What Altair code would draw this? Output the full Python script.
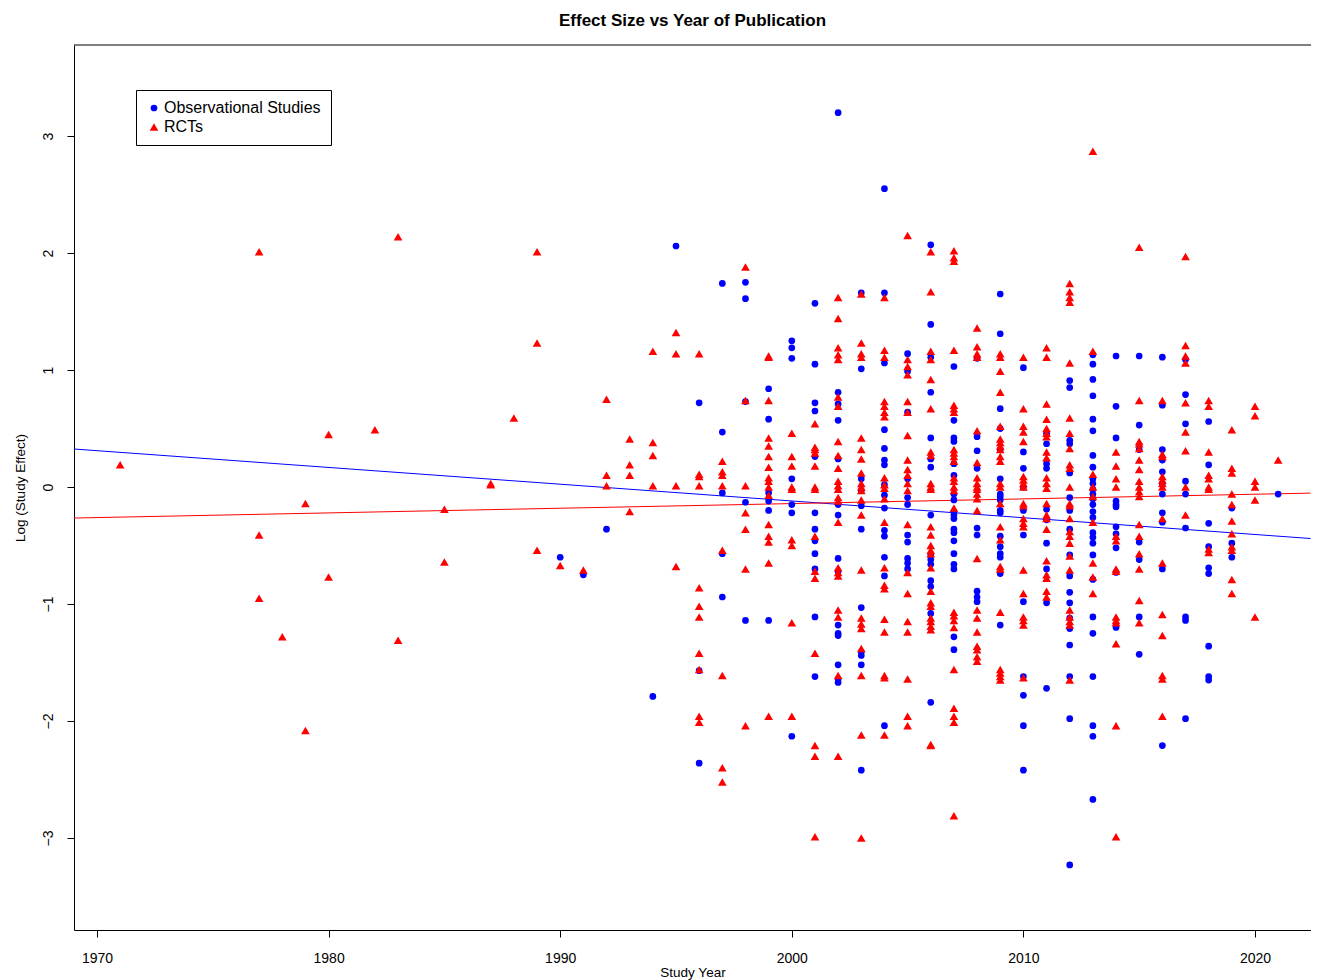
import altair as alt
import pandas as pd

# Observational studies: year -> log(study effect)
obs_by_year = {
    1990: [-0.60],
    1991: [-0.75],
    1992: [-0.36],
    1994: [-1.79],
    1995: [2.06],
    1996: [0.72, -1.57, -2.36],
    1997: [1.74, 0.47, -0.05, -0.57, -0.94],
    1998: [1.75, 1.61, 0.73, -0.13, -1.14],
    1999: [0.84, 0.58, -0.05, -0.12, -0.20, -1.14],
    2000: [1.25, 1.19, 1.10, 0.07, -0.15, -0.22, -2.13],
    2001: [1.57, 1.05, 0.72, 0.65, 0.26, -0.22, -0.36, -0.46, -0.57, -0.70, -1.11, -1.62],
    2002: [3.20, 0.81, 0.71, 0.57, 0.24, -0.15, -0.24, -0.61, -0.72, -1.18, -1.25, -1.27, -1.52, -1.64, -1.67],
    2003: [1.66, 1.01, 0.07, -0.03, -0.16, -0.36, -1.03, -1.41, -1.44, -1.52, -2.42],
    2004: [2.55, 1.66, 1.06, 0.49, 0.33, 0.23, 0.19, 0.02, -0.07, -0.18, -0.37, -0.42, -0.60, -0.76, -2.04],
    2005: [1.14, 0.99, 0.64, 0.07, -0.09, -0.15, -0.41, -0.47, -0.61, -0.65, -0.70],
    2006: [2.07, 1.39, 1.11, 0.81, 0.42, 0.24, 0.17, -0.24, -0.58, -0.62, -0.66, -0.80, -0.85, -1.08, -1.84],
    2007: [1.03, 0.57, 0.42, 0.39, 0.20, 0.10, -0.06, -0.11, -0.21, -0.24, -0.27, -0.36, -0.39, -0.46,
           -0.57, -0.66, -0.70, -1.28, -1.39],
    2008: [1.10, 0.43, 0.31, 0.16, -0.35, -0.41, -0.89, -0.94, -0.98],
    2009: [1.65, 1.31, 0.67, 0.50, 0.32, 0.07, -0.06, -0.08, -0.11, -0.20, -0.22, -0.42, -0.51, -0.57,
           -0.60, -0.74, -1.18],
    2010: [1.02, 0.30, 0.16, 0.00, -0.20, -0.41, -0.98, -1.62, -1.78, -2.04, -2.42],
    2011: [0.46, 0.37, 0.20, 0.16, -0.19, -0.28, -0.48, -0.70, -0.99, -1.72],
    2012: [0.91, 0.85, 0.40, 0.37, 0.12, -0.09, -0.20, -0.36, -0.58, -0.76, -0.90, -0.99, -1.12, -1.21,
           -1.35, -1.62, -1.98, -3.23],
    2013: [1.13, 1.05, 0.92, 0.78, 0.58, 0.48, 0.27, 0.17, 0.07, 0.03, -0.02, -0.06, -0.10, -0.15, -0.21,
           -0.26, -0.39, -0.43, -0.48, -0.58, -0.79, -1.11, -1.25, -1.62, -2.04, -2.13, -2.67],
    2014: [1.12, 0.69, 0.42, -0.12, -0.15, -0.17, -0.34, -0.40, -0.52, -0.73, -1.20],
    2015: [1.12, 0.53, 0.32, -0.47, -0.62, -1.11, -1.43],
    2016: [1.11, 0.70, 0.32, 0.23, 0.13, 0.03, -0.06, -0.22, -0.30, -0.70, -2.21],
    2017: [1.09, 0.79, 0.54, 0.05, -0.06, -0.35, -1.11, -1.14, -1.98],
    2018: [0.56, 0.19, -0.31, -0.51, -0.69, -0.74, -1.36, -1.62, -1.65],
    2019: [-0.18, -0.48, -0.60],
    2021: [-0.06],
}

# Randomised controlled trials: year -> log(study effect)
rct_by_year = {
    1971: [0.19],
    1977: [2.01, -0.41, -0.95],
    1978: [-1.28],
    1979: [-0.14, -2.08],
    1980: [0.45, -0.77],
    1982: [0.49],
    1983: [2.14, -1.31],
    1985: [-0.19, -0.64],
    1987: [0.02, 0.03],
    1988: [0.59],
    1989: [2.01, 1.23, -0.54],
    1990: [-0.67],
    1991: [-0.71],
    1992: [0.75, 0.10, 0.01],
    1993: [0.41, 0.19, 0.10, -0.21],
    1994: [1.16, 0.38, 0.27, 0.01],
    1995: [1.32, 1.14, 0.01, -0.68],
    1996: [1.14, 0.11, 0.09, 0.01, -0.86, -1.02, -1.11, -1.42, -1.56, -1.96, -2.01],
    1997: [0.22, 0.13, 0.10, 0.01, -0.54, -1.61, -2.40, -2.52],
    1998: [1.88, 0.74, 0.01, -0.22, -0.36, -0.70, -2.04],
    1999: [1.12, 1.11, 0.74, 0.42, 0.35, 0.26, 0.17, 0.08, 0.05, 0.00, -0.07, -0.32, -0.42, -0.47,
           -0.65, -1.96],
    2000: [0.46, 0.26, 0.18, 0.00, -0.02, -0.45, -0.50, -1.16, -1.96],
    2001: [0.54, 0.34, 0.32, 0.29, 0.18, 0.00, -0.02, -0.42, -0.72, -0.78, -1.42, -2.21, -2.30, -2.99],
    2002: [1.62, 1.44, 1.19, 1.13, 1.09, 0.77, 0.69, 0.39, 0.27, 0.16, 0.05, 0.01, -0.02, -0.09, -0.12,
           -0.30, -0.69, -0.73, -0.76, -1.05, -1.11, -1.61, -2.30],
    2003: [1.65, 1.23, 1.14, 1.11, 0.42, 0.32, 0.24, 0.12, 0.03, 0.00, -0.03, -0.11, -0.24, -0.71, -1.12,
           -1.17, -1.21, -1.38, -1.61, -2.12, -3.00],
    2004: [1.62, 1.17, 1.11, 0.73, 0.69, 0.64, 0.60, 0.08, 0.02, -0.01, -0.10, -0.30, -0.69, -0.84, -0.87,
           -1.13, -1.24, -1.61, -1.63, -2.12],
    2005: [2.15, 1.09, 1.03, 0.96, 0.73, 0.64, 0.44, 0.23, 0.15, 0.10, 0.03, -0.03, -0.32, -0.73, -0.91,
           -1.15, -1.24, -1.64, -1.96, -2.04],
    2006: [2.01, 1.67, 1.16, 1.09, 0.92, 0.67, 0.30, 0.27, 0.03, 0.00, -0.02, -0.34, -0.41, -0.50, -0.54,
           -0.57, -0.69, -0.89, -0.99, -1.02, -1.12, -1.15, -1.19, -1.22, -2.20, -2.21],
    2007: [2.02, 1.96, 1.93, 1.17, 0.70, 0.67, 0.64, 0.32, 0.29, 0.26, 0.22, 0.08, 0.05, 0.00, -0.03,
           -0.18, -1.07, -1.10, -1.14, -1.20, -1.56, -1.89, -1.96, -2.01, -2.81],
    2008: [1.36, 1.20, 1.14, 1.11, 0.48, 0.21, 0.08, 0.03, 0.00, -0.02, -0.06, -0.10, -0.20, -0.61, -1.05,
           -1.12, -1.24, -1.36, -1.39, -1.45, -1.49],
    2009: [1.14, 1.11, 0.99, 0.81, 0.52, 0.41, 0.38, 0.35, 0.32, 0.26, 0.22, 0.03, 0.00, -0.14, -0.34,
           -0.45, -0.68, -0.70, -1.07, -1.56, -1.59, -1.62, -1.65],
    2010: [1.11, 0.67, 0.52, 0.47, 0.39, 0.09, 0.06, 0.03, 0.00, -0.14, -0.16, -0.27, -0.31, -0.34, -0.71,
           -0.91, -1.11, -1.14, -1.18, -1.63],
    2011: [1.19, 1.11, 0.71, 0.58, 0.50, 0.46, 0.43, 0.30, 0.25, 0.08, 0.03, -0.01, -0.14, -0.24, -0.27,
           -0.36, -0.63, -0.75, -0.78, -0.89, -0.94],
    2012: [1.74, 1.67, 1.62, 1.58, 1.06, 0.59, 0.46, 0.33, 0.19, 0.16, 0.00, -0.14, -0.16, -0.27, -0.38,
           -0.42, -0.48, -0.59, -0.71, -1.05, -1.11, -1.15, -1.18, -1.65],
    2013: [2.87, 1.16, 0.11, 0.00, -0.08, -0.30, -0.65, -0.77, -0.91],
    2014: [0.30, 0.18, 0.07, 0.00, -0.42, -0.46, -0.70, -0.72, -1.11, -1.14, -1.16, -1.34, -2.04, -2.99],
    2015: [2.05, 0.74, 0.39, 0.37, 0.33, 0.23, 0.15, 0.05, 0.00, -0.04, -0.08, -0.32, -0.42, -0.57, -0.70,
           -0.97, -1.16],
    2016: [0.74, 0.28, 0.26, 0.09, 0.06, 0.03, 0.00, -0.27, -0.65, -1.09, -1.27, -1.61, -1.64, -1.96],
    2017: [1.97, 1.21, 1.12, 1.06, 0.72, 0.47, 0.31, 0.00, -0.24],
    2018: [0.74, 0.69, 0.30, 0.10, 0.07, 0.00, -0.02, -0.53, -0.56],
    2019: [0.49, 0.16, 0.12, -0.06, -0.15, -0.29, -0.40, -0.51, -0.54, -0.79, -0.91],
    2020: [0.69, 0.61, 0.05, 0.00, -0.11, -1.11],
    2021: [0.23],
}

# Fitted trend lines (end points)
fit_years = [1969.0, 2022.4]
obs_fit = [0.325, -0.440]
rct_fit = [-0.265, -0.052]

series_names = ["Observational Studies", "RCTs"]
series_colors = ["#0000FF", "#FF0000"]
series_shapes = ["circle", "triangle-up"]
x_ticks = [1970, 1980, 1990, 2000, 2010, 2020]
y_ticks = [-3, -2, -1, 0, 1, 2, 3]

rows = []
for yr, vals in obs_by_year.items():
    for v in vals:
        rows.append({"year": yr, "effect": v, "type": series_names[0]})
for yr, vals in rct_by_year.items():
    for v in vals:
        rows.append({"year": yr, "effect": v, "type": series_names[1]})
pts = pd.DataFrame(rows)

obs_line = pd.DataFrame({"year": fit_years, "effect": obs_fit})
rct_line = pd.DataFrame({"year": fit_years, "effect": rct_fit})

W, H = 1237, 885
FONT = "Liberation Sans"

xscale = alt.Scale(domain=[1969.007, 1969.007 + W / 23.16], nice=False, zero=False)
yscale = alt.Scale(domain=[-3.786, 3.778], nice=False, zero=False)
cscale = alt.Scale(domain=series_names, range=series_colors)
sscale = alt.Scale(domain=series_names, range=series_shapes)

xaxis = alt.Axis(values=x_ticks, format="d", title="Study Year", grid=False,
                 domainColor="black", tickColor="black", tickSize=7,
                 labelFontSize=14, labelFont=FONT, labelColor="black", labelPadding=14,
                 titleFontSize=13.5, titleFont=FONT, titleFontWeight="normal",
                 titleColor="black", titlePadding=0, labelFlush=False)
yaxis = alt.Axis(values=y_ticks, format="d", title="Log (Study Effect)", grid=False,
                 domainColor="black", tickColor="black", tickSize=7,
                 labelFontSize=14, labelFont=FONT, labelColor="black", labelAngle=270,
                 labelAlign="center", labelBaseline="bottom", labelPadding=12,
                 titleFontSize=13.5, titleFont=FONT, titleFontWeight="normal",
                 titleColor="black", titlePadding=14, labelFlush=False)

leg = alt.Legend(title=None, orient="none", legendX=62, legendY=45,
                 strokeColor="black", fillColor="white", padding=10,
                 labelFontSize=16, labelFont=FONT, labelColor="black",
                 labelOffset=2, rowPadding=3, symbolSize=55, symbolStrokeWidth=0)

points = alt.Chart(pts).mark_point(filled=True, opacity=1, clip=True).encode(
    x=alt.X("year:Q", scale=xscale, axis=xaxis),
    y=alt.Y("effect:Q", scale=yscale, axis=yaxis),
    color=alt.Color("type:N", scale=cscale, legend=leg),
    shape=alt.Shape("type:N", scale=sscale, legend=leg),
    size=alt.Size("type:N", scale=alt.Scale(domain=series_names, range=[45, 75]), legend=None),
    order=alt.Order("type:N"),
)

obs_trend = alt.Chart(obs_line).mark_line(strokeWidth=1, clip=True, color=series_colors[0]).encode(
    x=alt.X("year:Q", scale=xscale),
    y=alt.Y("effect:Q", scale=yscale),
)
rct_trend = alt.Chart(rct_line).mark_line(strokeWidth=1, clip=True, color=series_colors[1]).encode(
    x=alt.X("year:Q", scale=xscale),
    y=alt.Y("effect:Q", scale=yscale),
)

top_border = alt.Chart(pd.DataFrame({"k": [0]})).mark_rule(color="black", strokeWidth=1).encode(
    x=alt.value(0), x2=alt.value(W), y=alt.value(0)
)

chart = alt.layer(obs_trend, rct_trend, points, top_border).properties(
    width=W, height=H,
    title=alt.TitleParams("Effect Size vs Year of Publication", fontSize=17, fontWeight="bold",
                          font=FONT, color="black", anchor="middle", offset=15),
    autosize=alt.AutoSizeParams(type="none"),
    padding={"left": 66, "top": 37, "right": 0, "bottom": 50},
).configure_view(stroke=None)

chart.save("out.html", embed_options={"renderer": "svg", "actions": False})
